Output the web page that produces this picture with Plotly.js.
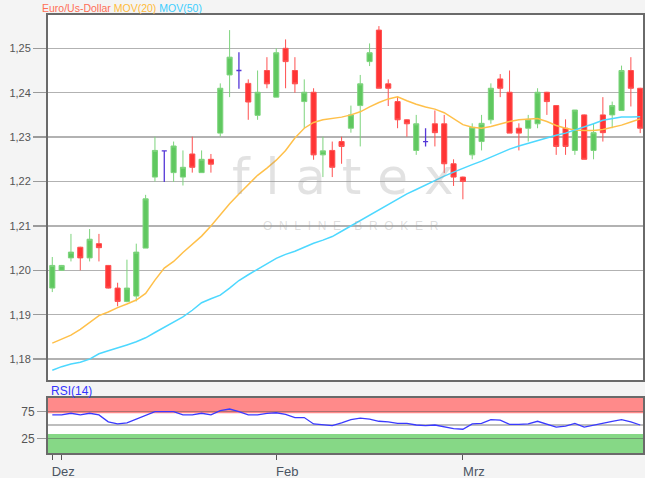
<!DOCTYPE html>
<html><head><meta charset="utf-8">
<script src="https://cdn.plot.ly/plotly-3.0.1.min.js"></script>
<style>html,body{margin:0;padding:0;background:#f4f4f4}</style>
</head><body><div id="chart" style="width:645px;height:478px"></div>
<script>
const dates = ['2017-12-29',
 '2018-01-01','2018-01-02','2018-01-03','2018-01-04','2018-01-05',
 '2018-01-08','2018-01-09','2018-01-10','2018-01-11','2018-01-12',
 '2018-01-15','2018-01-16','2018-01-17','2018-01-18','2018-01-19',
 '2018-01-22','2018-01-23','2018-01-24','2018-01-25','2018-01-26',
 '2018-01-29','2018-01-30','2018-01-31',
 '2018-02-01','2018-02-02',
 '2018-02-05','2018-02-06','2018-02-07','2018-02-08','2018-02-09',
 '2018-02-12','2018-02-13','2018-02-14','2018-02-15','2018-02-16',
 '2018-02-19','2018-02-20','2018-02-21','2018-02-22','2018-02-23',
 '2018-02-26','2018-02-27','2018-02-28',
 '2018-03-01','2018-03-02',
 '2018-03-05','2018-03-06','2018-03-07','2018-03-08','2018-03-09',
 '2018-03-12','2018-03-13','2018-03-14','2018-03-15','2018-03-16',
 '2018-03-19','2018-03-20','2018-03-21','2018-03-22','2018-03-23',
 '2018-03-26','2018-03-27','2018-03-28'];

const openP = [1.1960,1.2000,1.2028,1.2052,1.2028,1.2060,1.2011,1.1960,1.1930,1.1942,
 1.2050,1.2210,1.2269,1.2220,1.2210,1.2262,1.2220,1.2250,1.2309,1.2440,
 1.2450,1.2421,1.2349,1.2450,1.2390,1.2500,1.2450,1.2380,1.2401,1.2260,
 1.2270,1.2290,1.2320,1.2371,1.2470,1.2541,1.2420,1.2380,1.2339,1.2270,
 1.2290,1.2330,1.2330,1.2240,1.2210,1.2260,1.2290,1.2339,1.2431,1.2401,
 1.2320,1.2320,1.2330,1.2401,1.2371,1.2320,1.2270,1.2350,1.2270,1.2350,
 1.2350,1.2360,1.2450,1.2410];
const highP = [1.2030,1.2012,1.2082,1.2053,1.2093,1.2082,1.2012,1.1972,1.2024,1.2060,
 1.2170,1.2301,1.2270,1.2290,1.2270,1.2301,1.2270,1.2262,1.2421,1.2541,
 1.2491,1.2430,1.2450,1.2480,1.2500,1.2520,1.2480,1.2430,1.2410,1.2301,
 1.2290,1.2301,1.2371,1.2440,1.2511,1.2550,1.2430,1.2390,1.2340,1.2350,
 1.2320,1.2360,1.2350,1.2250,1.2211,1.2331,1.2350,1.2421,1.2442,1.2450,
 1.2331,1.2350,1.2410,1.2402,1.2372,1.2340,1.2361,1.2351,1.2331,1.2390,
 1.2380,1.2461,1.2480,1.2411];
const lowP = [1.1951,1.1999,1.2020,1.2000,1.2020,1.2020,1.1959,1.1919,1.1928,1.1930,
 1.2050,1.2200,1.2199,1.2199,1.2191,1.2220,1.2220,1.2220,1.2301,1.2390,
 1.2409,1.2339,1.2339,1.2410,1.2390,1.2410,1.2400,1.2320,1.2249,1.2210,
 1.2210,1.2240,1.2310,1.2279,1.2460,1.2410,1.2370,1.2320,1.2301,1.2260,
 1.2279,1.2279,1.2219,1.2190,1.2160,1.2250,1.2270,1.2330,1.2390,1.2309,
 1.2270,1.2290,1.2320,1.2350,1.2260,1.2260,1.2260,1.2250,1.2250,1.2290,
 1.2320,1.2360,1.2369,1.2309];
const closeP = [1.2011,1.2011,1.2041,1.2028,1.2070,1.2051,1.1960,1.1930,1.1960,1.2041,
 1.2161,1.2270,1.2269,1.2280,1.2232,1.2232,1.2250,1.2239,1.2410,1.2480,
 1.2450,1.2379,1.2401,1.2420,1.2490,1.2470,1.2420,1.2401,1.2260,1.2269,
 1.2232,1.2279,1.2350,1.2420,1.2490,1.2410,1.2410,1.2339,1.2330,1.2330,
 1.2290,1.2310,1.2240,1.2210,1.2200,1.2322,1.2331,1.2410,1.2410,1.2309,
 1.2309,1.2340,1.2401,1.2380,1.2279,1.2279,1.2361,1.2250,1.2310,1.2310,
 1.2371,1.2450,1.2410,1.2320];

const mov20 = [1.1836,1.1845,1.1854,1.1867,1.1883,1.1898,1.1906,1.1916,1.1924,1.1933,
 1.1948,1.1978,1.2005,1.2020,1.2040,1.2058,1.2077,1.2100,1.2125,1.2150,
 1.2172,1.2194,1.2214,1.2230,1.2248,1.2270,1.2298,1.2320,1.2333,1.2339,
 1.2342,1.2345,1.2350,1.2357,1.2368,1.2378,1.2386,1.2391,1.2382,1.2374,
 1.2368,1.2363,1.2355,1.2341,1.2328,1.2322,1.2320,1.2324,1.2330,1.2335,
 1.2339,1.2341,1.2342,1.2335,1.2326,1.2320,1.2316,1.2315,1.2315,1.2317,
 1.2322,1.2327,1.2334,1.2341];
const mov50 = [1.1775,1.1783,1.1789,1.1793,1.1800,1.1812,1.1819,1.1825,1.1832,1.1839,
 1.1848,1.1860,1.1872,1.1884,1.1895,1.1910,1.1927,1.1936,1.1944,1.1960,
 1.1977,1.1990,1.2002,1.2015,1.2027,1.2036,1.2043,1.2052,1.2061,1.2068,
 1.2076,1.2088,1.2100,1.2112,1.2124,1.2135,1.2148,1.2160,1.2172,1.2182,
 1.2192,1.2203,1.2212,1.2221,1.2230,1.2238,1.2246,1.2255,1.2265,1.2273,
 1.2280,1.2286,1.2292,1.2299,1.2304,1.2309,1.2316,1.2322,1.2330,1.2338,
 1.2342,1.2345,1.2345,1.2346];
const rsi14 = [69,69,72,69,72,69,56,52,54,61,
 69,75,75,75,69,69,72,69,77,80,
 75,69,69,72,73,70,64,64,52,51,
 49,54,60,63,61,57,56,53,53,50,
 49,50,46,43,42,52,53,60,59,51,
 51,52,57,51,46,48,53,46,50,53,
 57,60,56,50];

const yTicks = [1.18,1.19,1.20,1.21,1.22,1.23,1.24,1.25];
const xTickVals = ['2017-12-29','2018-01-01','2018-02-01','2018-03-01'];
const xTickText = ['Dez','','Feb','Mrz'];

// split regular candles and dojis (open == close)
const reg = {x:[],o:[],h:[],l:[],c:[]}, doji = {x:[],o:[],h:[],l:[],c:[]};
dates.forEach((d,i)=>{
  const t = (openP[i]===closeP[i]) ? doji : reg;
  t.x.push(d); t.o.push(openP[i]); t.h.push(highP[i]); t.l.push(lowP[i]); t.c.push(closeP[i]);
});

const GREEN='rgb(96,200,96)', RED='rgb(255,52,52)', PURPLE='rgb(85,55,215)';
const traces = [
 {type:'scatter', mode:'lines', x:dates, y:mov20, xaxis:'x', yaxis:'y',
  line:{color:'#ffc04a', width:1.5}, hoverinfo:'skip'},
 {type:'scatter', mode:'lines', x:dates, y:mov50, xaxis:'x', yaxis:'y',
  line:{color:'#4dd8ff', width:1.5}, hoverinfo:'skip'},
 {type:'candlestick', x:reg.x, open:reg.o, high:reg.h, low:reg.l, close:reg.c,
  xaxis:'x', yaxis:'y',
  increasing:{fillcolor:GREEN, line:{color:'rgb(125,212,125)', width:1}},
  decreasing:{fillcolor:RED, line:{color:'rgb(255,80,80)', width:1}}},
 {type:'candlestick', x:doji.x, open:doji.o, high:doji.h, low:doji.l, close:doji.c,
  xaxis:'x', yaxis:'y',
  increasing:{fillcolor:PURPLE, line:{color:PURPLE, width:1.3}},
  decreasing:{fillcolor:PURPLE, line:{color:PURPLE, width:1.3}}},
 {type:'scatter', mode:'lines', x:dates, y:rsi14, xaxis:'x2', yaxis:'y2',
  line:{color:'#3a3aff', width:1.3}, hoverinfo:'skip'}
];

const frame = {showline:true, mirror:true, linecolor:'#6a6a6a', linewidth:2};
const layout = {
 width:645, height:478,
 margin:{l:48, r:2, t:15, b:25},
 paper_bgcolor:'#f4f4f4', plot_bgcolor:'#ffffff',
 showlegend:false,
 separators:', ',
 boxmode:'overlay', boxgap:0.22,
 font:{family:'Liberation Sans, Arial, sans-serif', size:12, color:'#555'},
 xaxis:Object.assign({type:'category', anchor:'y', domain:[0,1], range:[-0.46,63.3],
   showticklabels:false, ticks:'', showgrid:false, zeroline:false,
   rangeslider:{visible:false}, fixedrange:true}, frame),
 yaxis:Object.assign({anchor:'x', domain:[0.1667,1], range:[1.1753,1.2575],
   tickmode:'array', tickvals:yTicks, tickformat:'.2f',
   ticks:'outside', ticklen:13, tickcolor:'#9a9a9a', tickwidth:1.5,
   gridcolor:'#b2b2b2', gridwidth:1.5, zeroline:false,
   tickfont:{size:11, color:'#555'}, fixedrange:true}, frame),
 xaxis2:Object.assign({type:'category', anchor:'y2', domain:[0,1], range:[-0.46,63.3],
   tickmode:'array', tickvals:xTickVals, ticktext:xTickText,
   ticks:'outside', ticklen:5, tickcolor:'#555', tickwidth:1,
   ticklabelshift:11,
   showgrid:false, zeroline:false, rangeslider:{visible:false},
   tickfont:{size:13, color:'#4b5563'}, fixedrange:true}, frame),
 yaxis2:Object.assign({anchor:'x2', domain:[0,0.1263], range:[-2.6,101.3],
   tickmode:'array', tickvals:[25,75],
   ticks:'outside', ticklen:9, tickcolor:'#9a9a9a', tickwidth:1.5,
   gridcolor:'rgba(80,80,80,0.45)', gridwidth:1.5, zeroline:false,
   tickfont:{size:12, color:'#555'}, fixedrange:true}, frame),
 shapes:[
  {type:'rect', xref:'x2', yref:'y2', x0:-2, x1:70, y0:72, y1:101.3,
   fillcolor:'#ff8a8a', line:{width:0}, layer:'below'},
  {type:'rect', xref:'x2', yref:'y2', x0:-2, x1:70, y0:-2.6, y1:33,
   fillcolor:'#86d886', line:{width:0}, layer:'below'},
  {type:'line', xref:'x2', yref:'y2', x0:-2, x1:70, y0:50, y1:50,
   line:{color:'#a8a8a8', width:1.5}, layer:'below'}
 ],
 annotations:[
  {xref:'paper', yref:'paper', x:-0.0134, y:1.017, xanchor:'left', yanchor:'middle', showarrow:false,
   text:'<span style="color:#ff6e55">Euro/Us-Dollar</span> <span style="color:#ffbb3a">MOV(20)</span> <span style="color:#3cceff">MOV(50)</span>',
   font:{size:10.5}},
  {xref:'paper', yref:'paper', x:0.0017, y:0.1416, xanchor:'left', yanchor:'middle', showarrow:false,
   text:'RSI(14)', font:{size:12, color:'#3434ff'}},
  {xref:'paper', yref:'paper', x:0.496, y:0.63, xanchor:'center', yanchor:'middle', showarrow:false,
   text:'f l a t e x', font:{size:50, color:'rgba(150,150,150,0.28)', family:'DejaVu Sans, sans-serif'}},
  {xref:'paper', yref:'paper', x:0.51, y:0.518, xanchor:'center', yanchor:'middle', showarrow:false,
   text:'O&nbsp; N&nbsp; L&nbsp; I&nbsp; N&nbsp; E&nbsp;&nbsp;&nbsp; B&nbsp; R&nbsp; O&nbsp; K&nbsp; E&nbsp; R', font:{size:12, color:'rgba(150,150,150,0.32)'}}
 ]
};

Plotly.newPlot('chart', traces, layout, {displayModeBar:false, staticPlot:true});
</script></body></html>
